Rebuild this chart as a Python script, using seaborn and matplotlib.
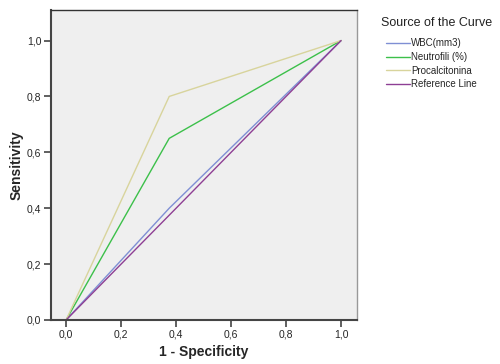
import matplotlib
matplotlib.use("Agg")
import matplotlib.pyplot as plt
import seaborn as sns
import pandas as pd

fpr = [0.0, 0.375, 1.0]
wbc_tpr = [0.0, 0.40, 1.0]
neut_tpr = [0.0, 0.65, 1.0]
pct_tpr = [0.0, 0.80, 1.0]
ref_x = [0.0, 1.0]
ref_y = [0.0, 1.0]
series_names = ["WBC(mm3)", "Neutrofili (%)", "Procalcitonina", "Reference Line"]
ticks = [0.0, 0.2, 0.4, 0.6, 0.8, 1.0]
tick_labels = ["0,0", "0,2", "0,4", "0,6", "0,8", "1,0"]

rows = []
for name, ys in zip(series_names[:3], [wbc_tpr, neut_tpr, pct_tpr]):
    for x, y in zip(fpr, ys):
        rows.append({"x": x, "y": y, "Source": name})
for x, y in zip(ref_x, ref_y):
    rows.append({"x": x, "y": y, "Source": series_names[3]})
df = pd.DataFrame(rows)

sns.set_style("white")
plt.rcParams['font.family'] = ['Liberation Sans', 'DejaVu Sans']

fig = plt.figure(figsize=(5.0, 3.64), dpi=100)
ax = fig.add_axes([0.102, 0.121, 0.612, 0.852])
ax.set_facecolor("#efefef")

palette = {"WBC(mm3)": "#7f8fd4", "Neutrofili (%)": "#3cc04a",
           "Procalcitonina": "#d8d49c", "Reference Line": "#8e3f94"}
sns.lineplot(data=df, x="x", y="y", hue="Source", hue_order=series_names,
             palette=palette, linewidth=1.0, ax=ax, sort=False, estimator=None,
             legend=True)

ax.set_xlim(-0.055, 1.058)
ax.set_ylim(0.0, 1.11)
ax.set_xticks(ticks)
ax.set_xticklabels(tick_labels, fontsize=7.5)
ax.set_yticks(ticks)
ax.set_yticklabels(tick_labels, fontsize=7.5)
ax.tick_params(axis="both", direction="out", length=5, width=1.2, color="#444444",
               left=True, bottom=True, pad=2)
ax.set_xlabel("1 - Specificity", fontsize=10, fontweight="bold", labelpad=4)
ax.set_ylabel("Sensitivity", fontsize=10, fontweight="bold", labelpad=2)

for s in ["left", "bottom"]:
    ax.spines[s].set_color("#444444")
    ax.spines[s].set_linewidth(1.5)
ax.spines["top"].set_color("#333333")
ax.spines["top"].set_linewidth(1.0)
ax.spines["right"].set_color("#999999")
ax.spines["right"].set_linewidth(1.0)

handles, labels = ax.get_legend_handles_labels()
ax.get_legend().remove()
fig.text(381 / 500, 1 - 23 / 364, "Source of the Curve", fontsize=9,
         ha="left", va="center", color="#222222")
leg = fig.legend(handles, labels, loc="upper left",
                 bbox_to_anchor=(386 / 500, 1 - 38.5 / 364), frameon=False,
                 fontsize=7, handlelength=2.45, handletextpad=0.15,
                 labelspacing=0.37, borderaxespad=0.0, borderpad=0.0)
for line in leg.get_lines():
    line.set_linewidth(1.0)

fig.savefig("out.png", dpi=100)
